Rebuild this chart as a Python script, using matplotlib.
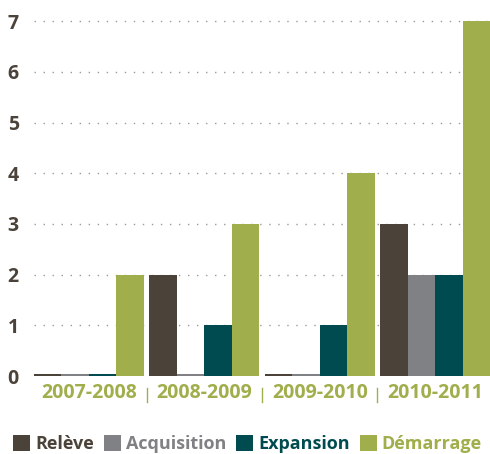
import matplotlib
matplotlib.use("Agg")
import matplotlib.pyplot as plt
import matplotlib.transforms as mtransforms
import numpy as np

years = ["2007-2008", "2008-2009", "2009-2010", "2010-2011"]
series_names = ["Relève", "Acquisition", "Expansion", "Démarrage"]
releve = [0, 2, 0, 3]
acquisition = [0, 0, 0, 2]
expansion = [0, 1, 1, 2]
demarrage = [2, 3, 4, 7]
yticks = [0, 1, 2, 3, 4, 5, 6, 7]

colors = ["#4b433a", "#808184", "#004b50", "#a0ae4b"]
text_dark = "#4b433a"
green = "#a0ae4b"

plt.rcParams['font.family'] = ['Open Sans', 'DejaVu Sans']
plt.rcParams['font.weight'] = 'bold'

fig = plt.figure(figsize=(4.9, 4.54), dpi=100)
ax = fig.add_axes([34/490, 78/454, 456/490, 376/454])

bw = 0.2375
stub = 0.03
x = np.arange(len(years))
all_series = [releve, acquisition, expansion, demarrage]
for j, (vals, c, name) in enumerate(zip(all_series, colors, series_names)):
    v = np.array(vals, dtype=float)
    h = np.where(v == 0, stub, v)
    ax.bar(x + j * bw, h, width=bw, align='edge', color=c, label=name, zorder=3, linewidth=0)

ax.set_xlim(0, len(years) - 0.05)
ax.set_ylim(0, 7.42)
ax.set_yticks(yticks)
ax.set_yticklabels([str(t) for t in yticks], fontsize=14, color=text_dark, fontweight='bold')
ax.tick_params(axis='y', length=0, pad=11)
ax.set_xticks(x + 2 * bw)
ax.set_xticklabels(years, fontsize=14, color=green, fontweight='bold')
ax.tick_params(axis='x', length=0, pad=5)

for t in yticks[1:]:
    ax.axhline(t, color="#9a9a9a", linewidth=1.0, linestyle=(0, (1, 5.5)), zorder=1)

for s in ax.spines.values():
    s.set_visible(False)

trans = mtransforms.blended_transform_factory(ax.transData, ax.transAxes)
for i in range(len(years) - 1):
    xs = i + 4 * bw + 0.025
    ax.plot([xs, xs], [-0.032, -0.068], transform=trans, color=green, linewidth=1.0, clip_on=False)

handles, labels = ax.get_legend_handles_labels()
fig.legend(handles, labels, loc='lower left', bbox_to_anchor=(12/490, 0.0), ncol=4,
           frameon=False, handlelength=0.94, handleheight=0.94,
           handletextpad=0.28, columnspacing=0.55, borderaxespad=0.0, borderpad=0.05,
           labelcolor=colors, prop={'weight': 'bold', 'size': 13})

fig.savefig("out.png", dpi=100)
